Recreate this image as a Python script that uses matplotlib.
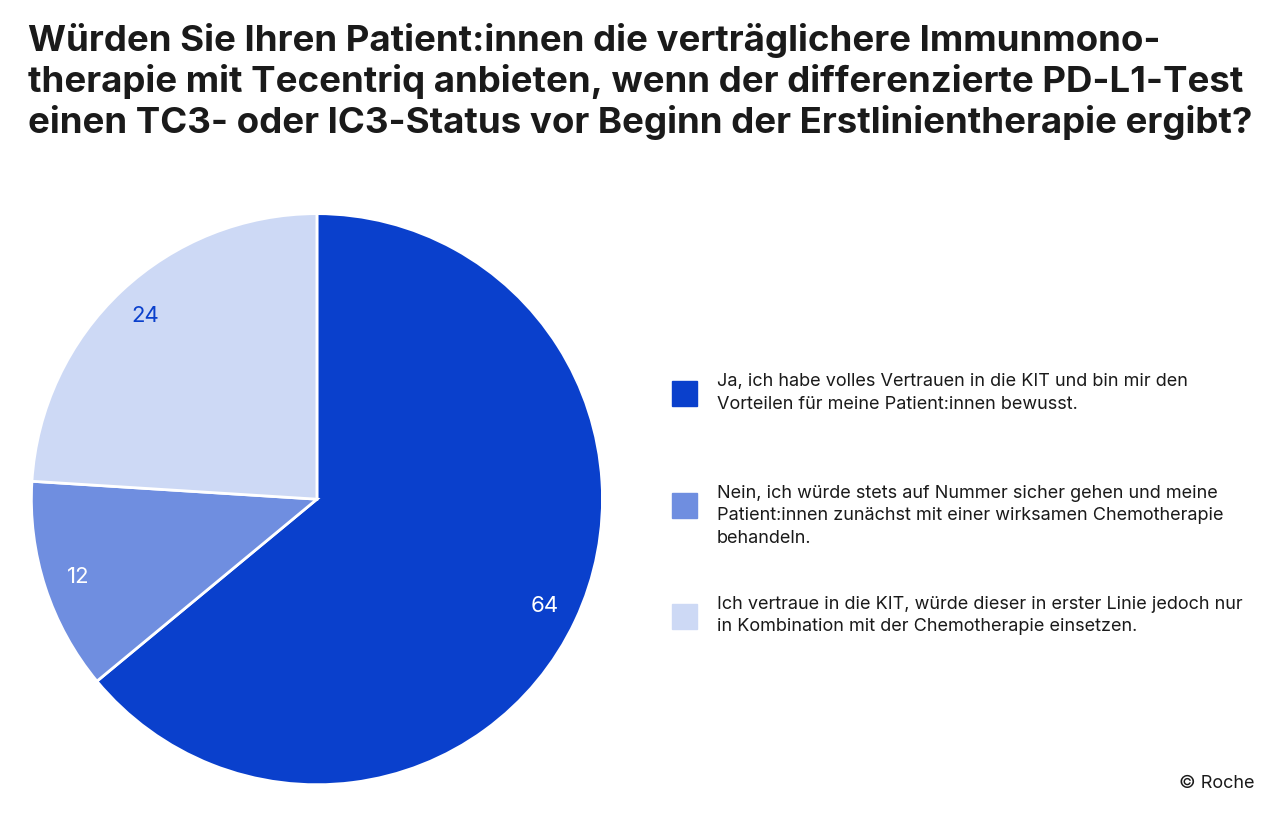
import matplotlib
matplotlib.use("Agg")
import matplotlib.pyplot as plt
from matplotlib.patches import Rectangle

title = ("Würden Sie Ihren Patient:innen die verträglichere Immunmono-\n"
         "therapie mit Tecentriq anbieten, wenn der differenzierte PD-L1-Test\n"
         "einen TC3- oder IC3-Status vor Beginn der Erstlinientherapie ergibt?")
values = [64, 12, 24]
colors = ["#0a40cc", "#6f8ee0", "#cdd9f5"]
label_colors = ["white", "white", "#0a40cc"]
answers = [
    "Ja, ich habe volles Vertrauen in die KIT und bin mir den\nVorteilen für meine Patient:innen bewusst.",
    "Nein, ich würde stets auf Nummer sicher gehen und meine\nPatient:innen zunächst mit einer wirksamen Chemotherapie\nbehandeln.",
    "Ich vertraue in die KIT, würde dieser in erster Linie jedoch nur\nin Kombination mit der Chemotherapie einsetzen.",
]

plt.rcParams["font.family"] = "Inter"
fig = plt.figure(figsize=(12.8, 8.17), dpi=100)

fig.text(0.022, 0.972, title, fontsize=26.4, fontweight="bold", color="#1a1a1a",
         va="top", ha="left", linespacing=1.22)

ax = fig.add_axes([0.0234, 0.0377, 0.4484, 0.7026])
wedges, texts, autotexts = ax.pie(values, colors=colors, startangle=90, counterclock=False,
                                  autopct=lambda p: f"{p:.0f}", pctdistance=0.88,
                                  wedgeprops=dict(edgecolor="white", linewidth=2),
                                  textprops=dict(fontsize=16))
for t, c in zip(autotexts, label_colors):
    t.set_color(c)
ax.set_xlim(-1.005, 1.005)
ax.set_ylim(-1.005, 1.005)
ax.set_aspect("equal")

ys = [0.518, 0.381, 0.246]
for y, c, txt in zip(ys, colors, answers):
    fig.patches.append(Rectangle((0.525, y - 0.0153), 0.0195, 0.0306, color=c,
                                 transform=fig.transFigure, figure=fig))
    fig.text(0.56, y + 0.025, txt, fontsize=13, color="#1a1a1a",
             va="top", ha="left", linespacing=1.4)

fig.text(0.98, 0.03, "© Roche", fontsize=13, color="#1a1a1a", ha="right", va="bottom")
fig.savefig("out.png", dpi=100, facecolor="white")
